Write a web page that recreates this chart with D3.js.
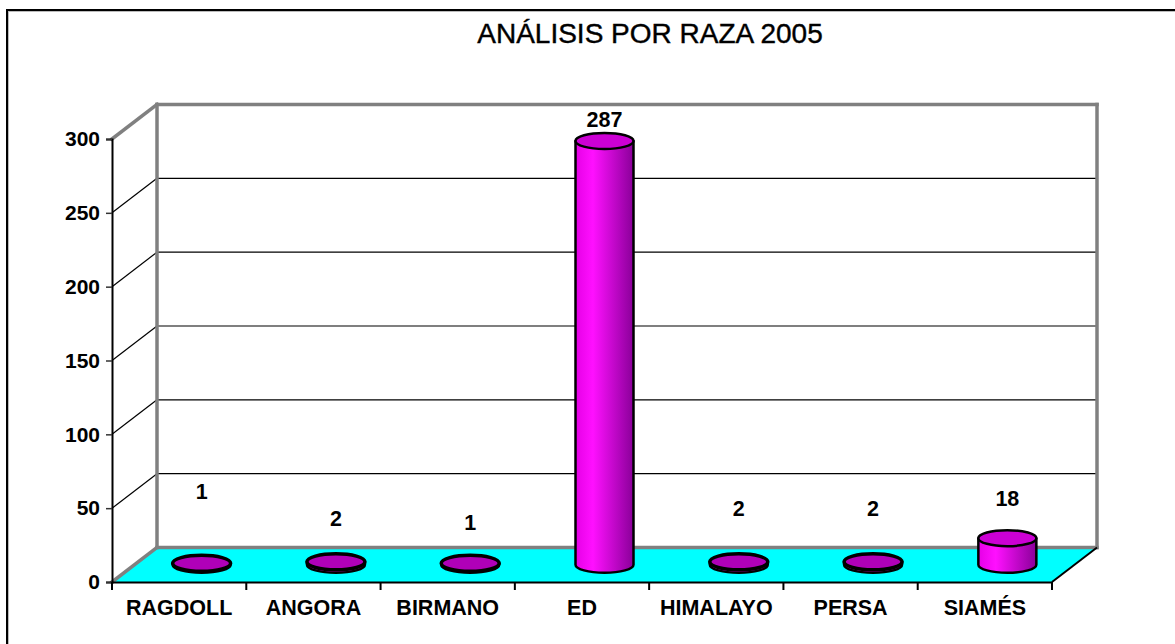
<!DOCTYPE html>
<html>
<head>
<meta charset="utf-8">
<script src="https://cdn.jsdelivr.net/npm/d3@7"></script>
<style>
  html, body { margin: 0; padding: 0; background: #fff; }
  svg { display: block; }
  text { font-family: "Liberation Sans", Arial, sans-serif; }
</style>
</head>
<body>
<svg id="chart" width="1175" height="644"></svg>
<script>
// ---- data ----
const title = "ANÁLISIS POR RAZA 2005";
const categories = ["RAGDOLL", "ANGORA", "BIRMANO", "ED", "HIMALAYO", "PERSA", "SIAMÉS"];
const values = [1, 2, 1, 287, 2, 2, 18];
const yTicks = [0, 50, 100, 150, 200, 250, 300];

// ---- layout (not data) ----
const labelLift = [72, 44, 41, 22, 54, 54, 40]; // how far each value label sits above its cylinder top
const plot = { left: 112, right: 1052, top: 139, bottom: 582 };
const depth = { dx: 45, dy: -34.5 };

const svg = d3.select("#chart");

// gradient for cylinders
const defs = svg.append("defs");
const grad = defs.append("linearGradient").attr("id", "cyl").attr("x1", "0%").attr("x2", "100%");
grad.append("stop").attr("offset", "0%").attr("stop-color", "#e600e6");
grad.append("stop").attr("offset", "30%").attr("stop-color", "#ff10ff");
grad.append("stop").attr("offset", "100%").attr("stop-color", "#8a0099");

// outer border
svg.append("rect").attr("x", 8).attr("y", 11).attr("width", 1300).attr("height", 800)
  .attr("fill", "none").attr("stroke", "#bbb").attr("stroke-width", 2);
svg.append("rect").attr("x", 7).attr("y", 10).attr("width", 1300).attr("height", 800)
  .attr("fill", "none").attr("stroke", "#000").attr("stroke-width", 2);

// scales
const x = d3.scaleBand().domain(categories).range([plot.left, plot.right]).padding(0);
const y = d3.scaleLinear().domain([0, 300]).range([plot.bottom, plot.top]);

const ymax = 300;
const backL = plot.left + depth.dx, backR = plot.right + depth.dx;

// floor (cyan)
svg.append("path")
  .attr("d", `M${plot.left},${y(0)} L${plot.right},${y(0)} L${backR},${y(0) + depth.dy} L${backL},${y(0) + depth.dy} Z`)
  .attr("fill", "#00ffff");

// back wall gridlines
const grid = svg.append("g");
yTicks.filter(t => t > 0 && t < ymax).forEach(t => {
  grid.append("line").attr("x1", backL).attr("x2", backR)
    .attr("y1", y(t) + depth.dy).attr("y2", y(t) + depth.dy)
    .attr("stroke", "#000").attr("stroke-width", 1.2);
  grid.append("line").attr("x1", plot.left).attr("x2", backL)
    .attr("y1", y(t)).attr("y2", y(t) + depth.dy)
    .attr("stroke", "#000").attr("stroke-width", 1.2);
});

// wall edges (gray)
const gray = "#808080";
const edges = [
  [plot.left, y(ymax), backL, y(ymax) + depth.dy],
  [backL, y(ymax) + depth.dy, backR, y(ymax) + depth.dy],
  [backR, y(ymax) + depth.dy, backR, y(0) + depth.dy],
  [backL, y(ymax) + depth.dy, backL, y(0) + depth.dy],
  [backL, y(0) + depth.dy, backR, y(0) + depth.dy],
  [plot.left, y(0), backL, y(0) + depth.dy]
];
edges.forEach(e => svg.append("line")
  .attr("x1", e[0]).attr("y1", e[1]).attr("x2", e[2]).attr("y2", e[3])
  .attr("stroke", gray).attr("stroke-width", 3.5).attr("stroke-linecap", "square"));

// floor right edge (black)
svg.append("line").attr("x1", plot.right).attr("y1", y(0)).attr("x2", backR).attr("y2", y(0) + depth.dy)
  .attr("stroke", "#000").attr("stroke-width", 2);

// y axis
const yAxis = svg.append("g").attr("transform", `translate(${plot.left},0)`)
  .call(d3.axisLeft(y).tickValues(yTicks).tickSize(6).tickPadding(6));
yAxis.select(".domain").attr("stroke", "#000").attr("stroke-width", 2);
yAxis.selectAll(".tick line").attr("stroke", "#333").attr("stroke-width", 1.5);
yAxis.selectAll(".tick text").attr("font-size", 21).attr("font-weight", "bold")
  .attr("fill", "#000").attr("font-family", "Liberation Sans, Arial, sans-serif");

// x axis
const xAxis = svg.append("g").attr("transform", `translate(0,${y(0)})`)
  .call(d3.axisBottom(x).tickSize(0).tickPadding(18));
xAxis.select(".domain").attr("stroke", "#000").attr("stroke-width", 2);
xAxis.selectAll(".tick text").attr("font-size", 21.5).attr("font-weight", "bold")
  .attr("fill", "#000").attr("font-family", "Liberation Sans, Arial, sans-serif");
// boundary tick marks
const bounds = categories.map(c => x(c)).concat([plot.right]);
svg.append("g").selectAll("line").data(bounds).join("line")
  .attr("x1", d => d).attr("x2", d => d)
  .attr("y1", y(0)).attr("y2", y(0) + 8)
  .attr("stroke", "#000").attr("stroke-width", 2);

// cylinders
const rx = 29, ry = 8;
const bars = svg.append("g");
categories.forEach((c, i) => {
  const v = values[i];
  const cx = x(c) + x.bandwidth() / 2 + depth.dx / 2;
  const yb = y(0) + depth.dy / 2;
  const yt = y(v) + depth.dy / 2;
  const g = bars.append("g");
  g.append("path")
    .attr("d", `M${cx - rx},${yt} L${cx - rx},${yb} A${rx},${ry} 0 0 0 ${cx + rx},${yb} L${cx + rx},${yt} Z`)
    .attr("fill", "url(#cyl)").attr("stroke", "#000").attr("stroke-width", 2.5).attr("stroke-linejoin", "round");
  g.append("ellipse").attr("cx", cx).attr("cy", yt).attr("rx", rx).attr("ry", ry)
    .attr("fill", v < 5 ? "#b000b8" : "#cc00d4").attr("stroke", "#000").attr("stroke-width", v < 5 ? 3.5 : 2.5);
  g.append("text").attr("x", cx).attr("y", yt - labelLift[i]).attr("dy", "0.36em")
    .attr("text-anchor", "middle").attr("font-size", 21.5).attr("font-weight", "bold")
    .attr("fill", "#000").text(v);
});

// title
svg.append("text").attr("x", 650).attr("y", 43).attr("text-anchor", "middle")
  .attr("font-size", 28).attr("fill", "#000").attr("stroke", "#000").attr("stroke-width", 0.4)
  .text(title);
</script>
</body>
</html>
